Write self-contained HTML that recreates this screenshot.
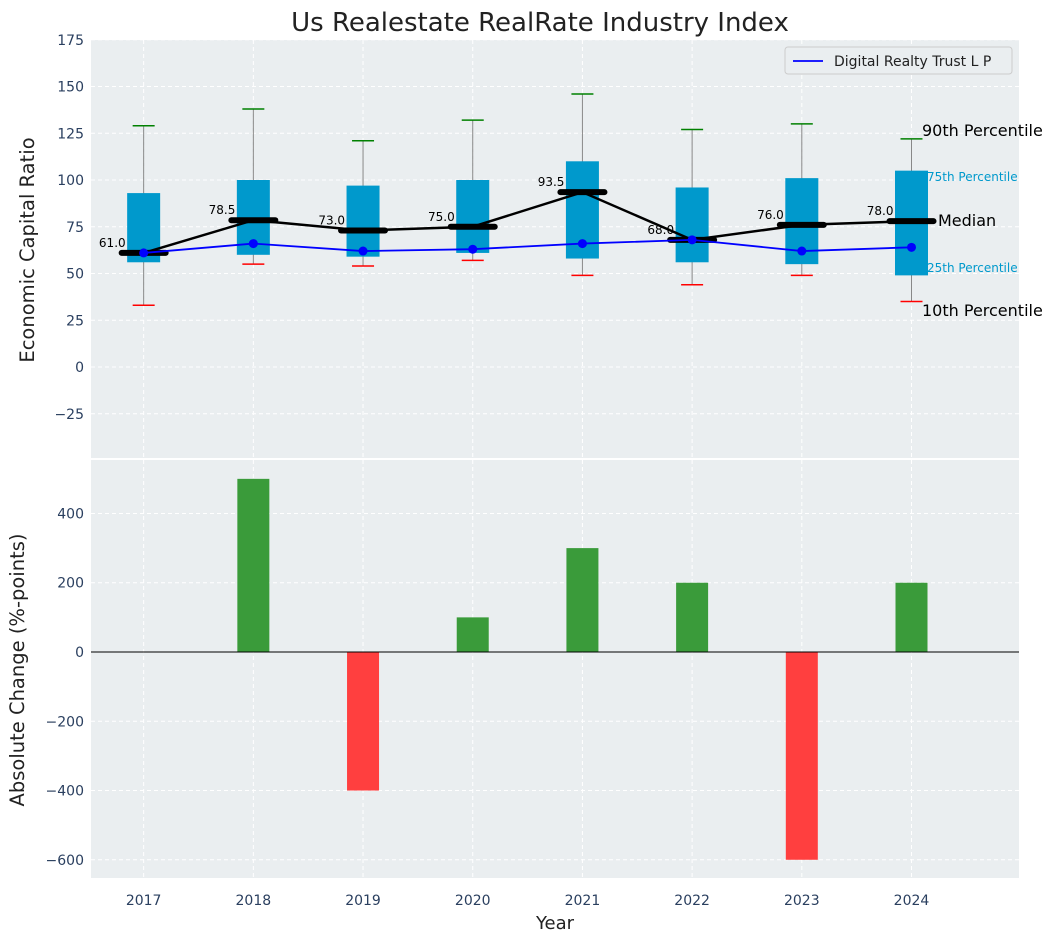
<!DOCTYPE html>
<html><head><meta charset="utf-8"><style>
body{margin:0;background:#fff;font-family:"Liberation Sans","DejaVu Sans",sans-serif}
svg text{font-family:"DejaVu Sans","Liberation Sans",sans-serif}
</style></head><body>
<svg id="c" width="1057" height="942" viewBox="0 0 1057 942" xmlns="http://www.w3.org/2000/svg"></svg>
<script>
const years=[2017,2018,2019,2020,2021,2022,2023,2024];
const p10=[33,55,54,57,49,44,49,35];
const q1=[56,60,59,61,58,56,55,49];
const median=[61,78.5,73,75,93.5,68,76,78];
const q3=[93,100,97,100,110,96,101,105];
const p90=[129,138,121,132,146,127,130,122];
const company=[61,66,62,63,66,68,62,64];
const changes=[0,500,-400,100,300,200,-600,200];
const topTicks=[-25,0,25,50,75,100,125,150,175];
const botTicks=[-600,-400,-200,0,200,400];

const NS="http://www.w3.org/2000/svg";
const svg=document.getElementById('c');
function el(t,a,p){const e=document.createElementNS(NS,t);for(const k in a)e.setAttribute(k,a[k]);(p||svg).appendChild(e);return e;}
const X0=91,X1=1019;
const x=v=>X0+(v-2016.52)/(2024.98-2016.52)*(X1-X0);
const T0=40,T1=458,B0=460,B1=878;
const yT=v=>367-v*1.87;
const yB=v=>652-v*0.3463;

let t=el('text',{x:540,y:31,'text-anchor':'middle','font-size':26,fill:'#222'});t.textContent='Us Realestate RealRate Industry Index';


let r=el('rect',{x:X0,y:T0,width:X1-X0,height:T1-T0,fill:'#eaeef0'});

r=el('rect',{x:X0,y:B0,width:X1-X0,height:B1-B0,fill:'#eaeef0'});


topTicks.forEach(v=>{const y=yT(v);
 el('line',{x1:X0,x2:X1,y1:y,y2:y,stroke:'#fff','stroke-dasharray':'4,3','stroke-width':1});
 const tx=el('text',{x:84,y:y+5,'text-anchor':'end','font-size':14,fill:'#2a3f5f'});tx.textContent=v<0?'\u2212'+Math.abs(v):v;
 });
botTicks.forEach(v=>{const y=yB(v);
 el('line',{x1:X0,x2:X1,y1:y,y2:y,stroke:'#fff','stroke-dasharray':'4,3','stroke-width':1});
 const tx=el('text',{x:84,y:y+5,'text-anchor':'end','font-size':14,fill:'#2a3f5f'});tx.textContent=v<0?'\u2212'+Math.abs(v):v;
 });
years.forEach(yr=>{const xx=x(yr);
 el('line',{x1:xx,x2:xx,y1:T0,y2:T1,stroke:'#fff','stroke-dasharray':'4,3'});
 el('line',{x1:xx,x2:xx,y1:B0,y2:B1,stroke:'#fff','stroke-dasharray':'4,3'});
 const tx=el('text',{x:xx,y:905,'text-anchor':'middle','font-size':14,fill:'#2a3f5f'});tx.textContent=yr;
 });

t=el('text',{x:34,y:250,'text-anchor':'middle','font-size':19.5,fill:'#222',transform:'rotate(-90 34 250)'});t.textContent='Economic Capital Ratio';

t=el('text',{x:24,y:670,'text-anchor':'middle','font-size':19.5,fill:'#222',transform:'rotate(-90 24 670)'});t.textContent='Absolute Change (%-points)';

t=el('text',{x:555,y:929,'text-anchor':'middle','font-size':18,fill:'#222'});t.textContent='Year';


years.forEach((yr,i)=>{const xx=x(yr);
 el('line',{x1:xx,x2:xx,y1:yT(p10[i]),y2:yT(p90[i]),stroke:'#888','stroke-width':1});
 const b=el('rect',{x:xx-16.5,y:yT(q3[i]),width:33,height:yT(q1[i])-yT(q3[i]),fill:'#0099cc'});
 
 el('line',{x1:xx-11,x2:xx+11,y1:yT(p90[i]),y2:yT(p90[i]),stroke:'green','stroke-width':1.5});
 el('line',{x1:xx-11,x2:xx+11,y1:yT(p10[i]),y2:yT(p10[i]),stroke:'red','stroke-width':1.5});
});
let d=years.map((yr,i)=>(i?'L':'M')+x(yr)+','+yT(median[i])).join('');
let p=el('path',{d:d,fill:'none',stroke:'#000','stroke-width':2.5});

years.forEach((yr,i)=>{const xx=x(yr);
 el('line',{x1:xx-22,x2:xx+22,y1:yT(median[i]),y2:yT(median[i]),stroke:'#000','stroke-width':6,'stroke-linecap':'round'});
 const tx=el('text',{x:xx-18,y:yT(median[i])-6,'text-anchor':'end','font-size':12,fill:'#000'});tx.textContent=median[i].toFixed(1);
 });
d=years.map((yr,i)=>(i?'L':'M')+x(yr)+','+yT(company[i])).join('');
p=el('path',{d:d,fill:'none',stroke:'blue','stroke-width':1.8});

years.forEach((yr,i)=>{const c=el('circle',{cx:x(yr),cy:yT(company[i]),r:4.5,fill:'blue'});
 });

[['90th Percentile',922,136,16,'#000'],['75th Percentile',927,181,12,'#0099cc'],['Median',938,226,16,'#000'],['25th Percentile',927,272,12,'#0099cc'],['10th Percentile',922,316,16,'#000']].forEach(a=>{
 const tx=el('text',{x:a[1],y:a[2],'font-size':a[3],fill:a[4]});tx.textContent=a[0];
 });

const lg=el('g',{});
el('rect',{x:785,y:47,width:227,height:27,rx:3,fill:'#eaeef0',stroke:'#ccc'},lg);
el('line',{x1:793,x2:823,y1:61,y2:61,stroke:'blue','stroke-width':1.8},lg);
t=el('text',{x:834,y:66,'font-size':14,fill:'#222'},lg);t.textContent='Digital Realty Trust L P';

years.forEach((yr,i)=>{const v=changes[i];if(!v)return;
 const y0=yB(Math.max(v,0)),h=Math.abs(yB(v)-yB(0));
 const b=el('rect',{x:x(yr)-16,y:y0,width:32,height:h,fill:v>0?'#3a9b3a':'#ff3f3f'});
 });
el('line',{x1:X0,x2:X1,y1:yB(0),y2:yB(0),stroke:'#000','stroke-width':1});
</script>
</body></html>
